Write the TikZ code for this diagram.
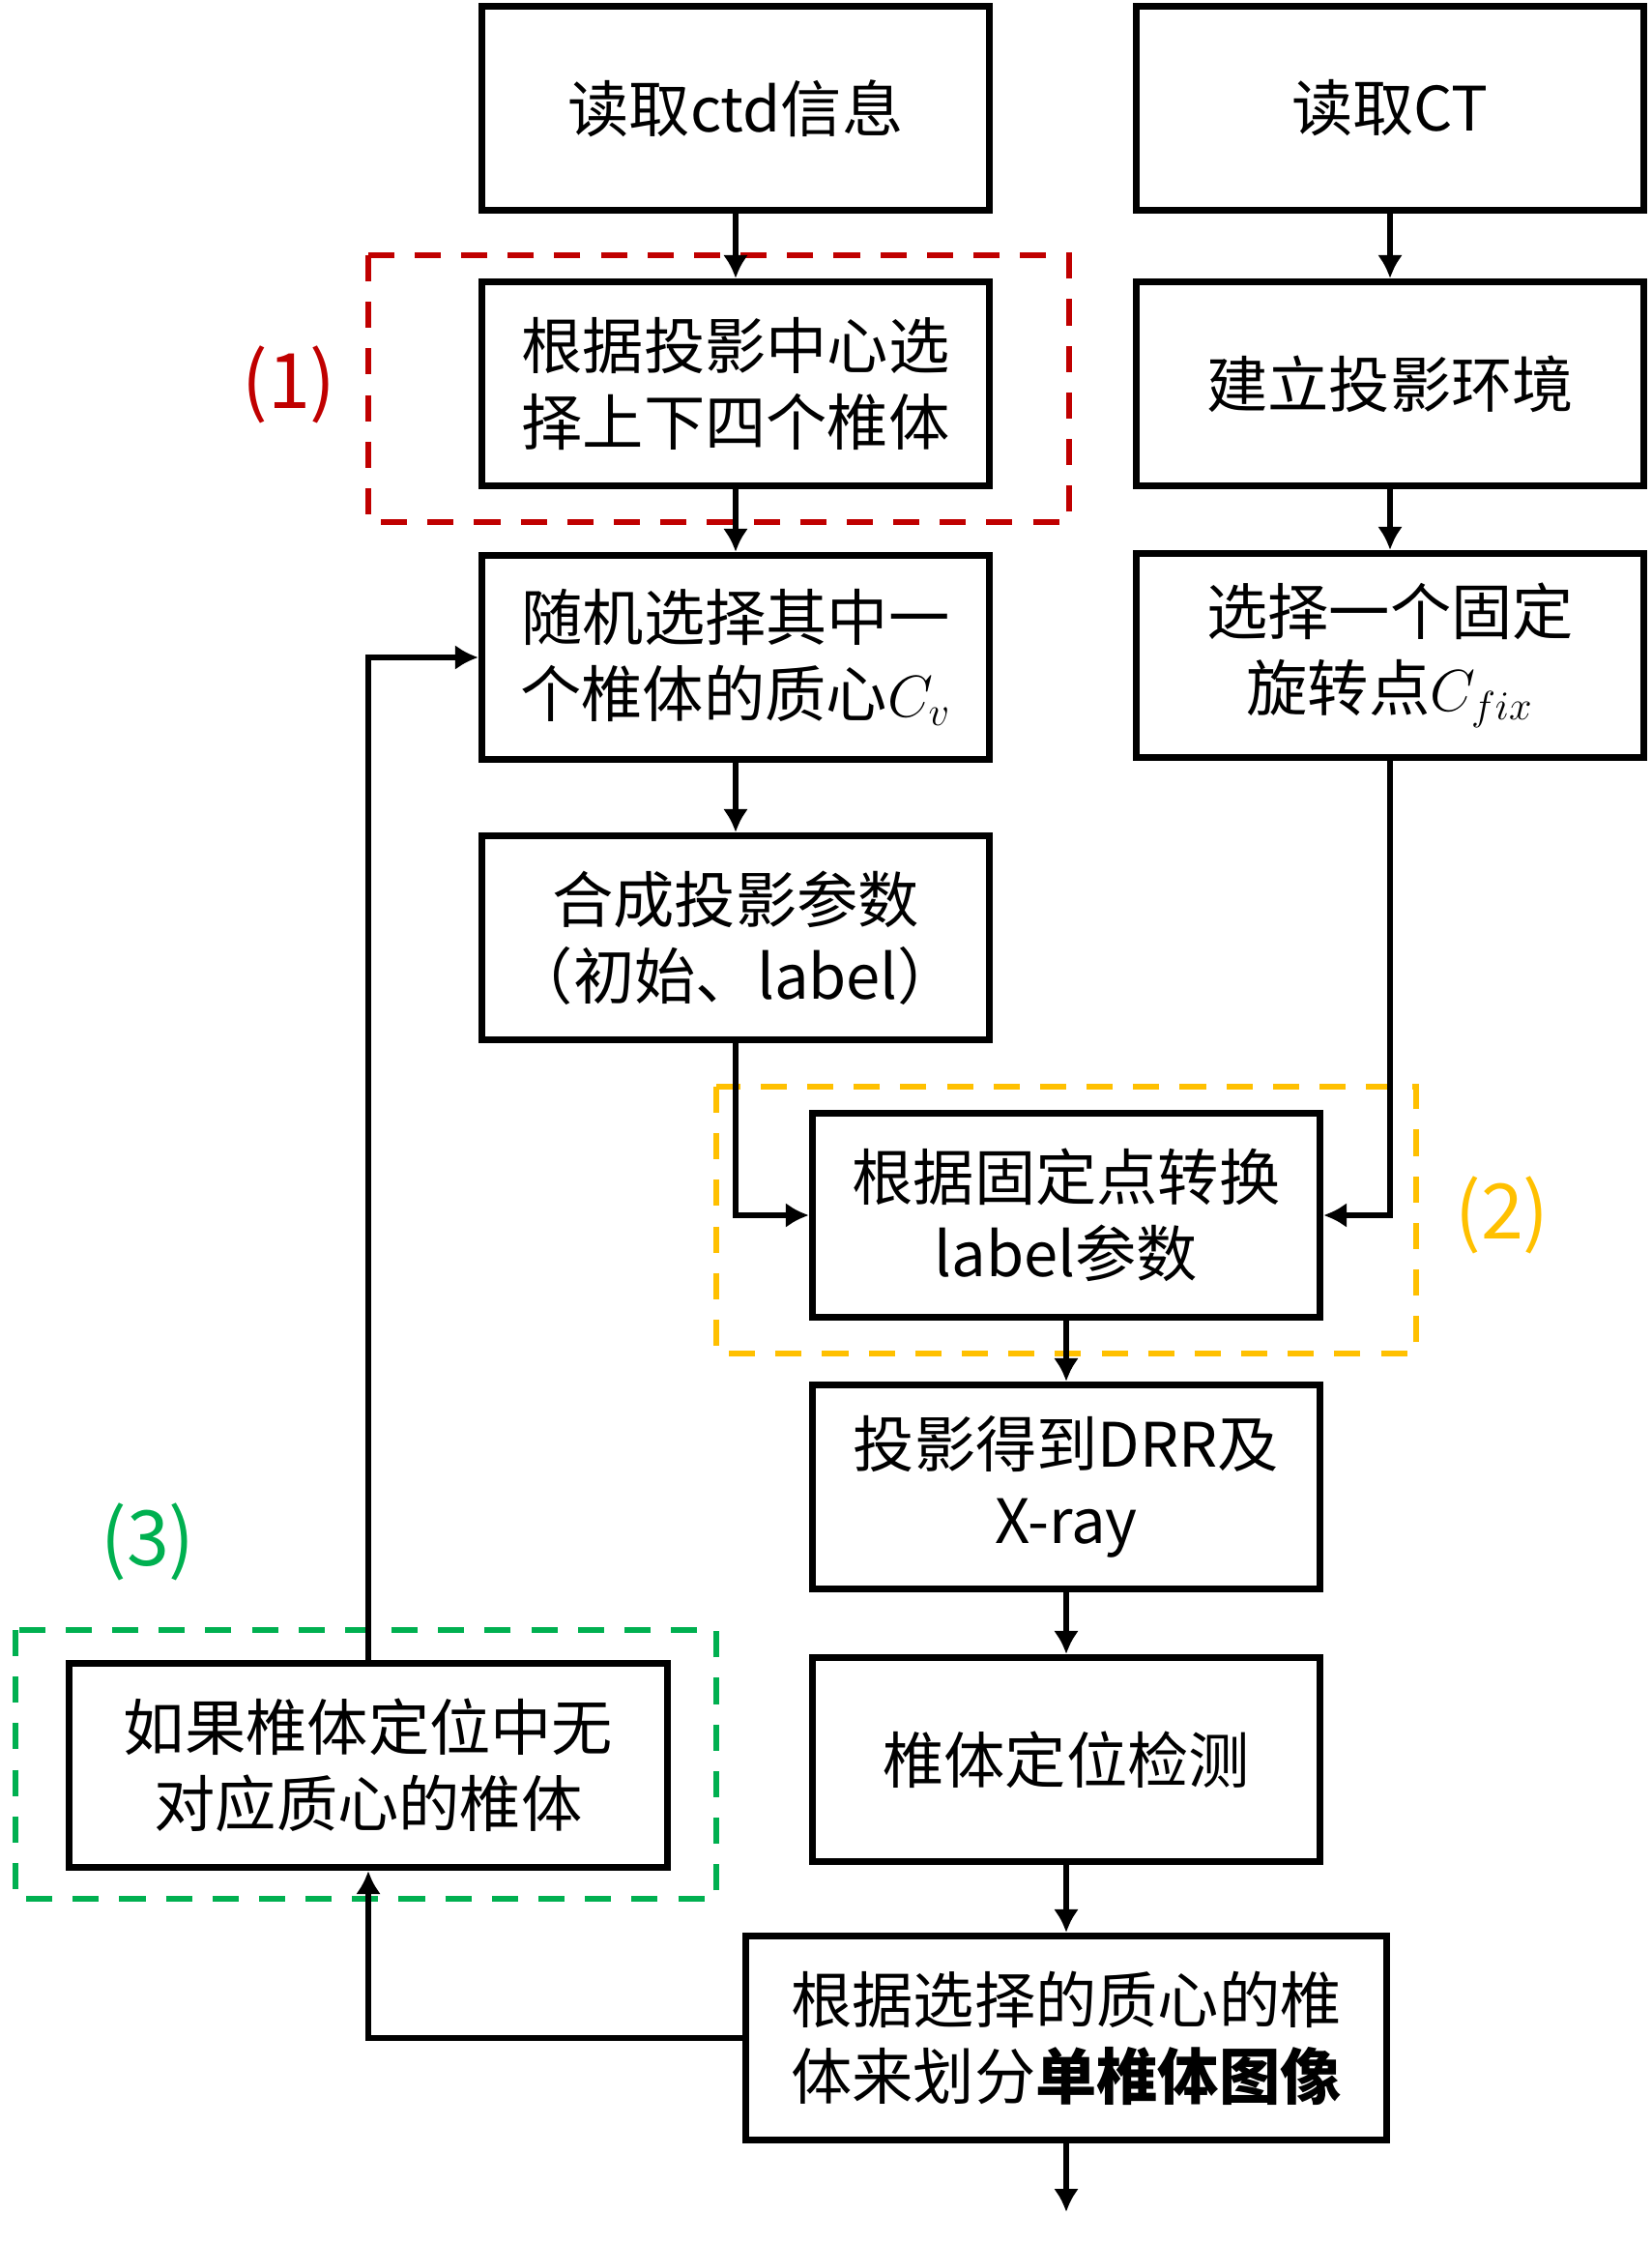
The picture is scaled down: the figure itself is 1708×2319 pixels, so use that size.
\documentclass[tikz,border=0pt]{standalone}
\usepackage{fontspec}
\setmainfont{Noto Sans CJK SC}
\usetikzlibrary{arrows.meta}
\definecolor{myred}{HTML}{C00000}
\definecolor{myyellow}{HTML}{FFC000}
\definecolor{mygreen}{HTML}{00B050}
\begin{document}
\begin{tikzpicture}[x=0.01cm,y=-0.01cm,
 box/.style={draw, line width=2pt, minimum width=5.25cm, minimum height=2.11cm, align=center, font=\fontsize{18}{22.5}\selectfont, inner sep=0pt},
 conn/.style={line width=1.75pt, -{Latex[length=0.24cm,width=0.26cm]}},
 grp/.style={line width=1.85pt, dash pattern=on 7.7pt off 6pt},
 lbl/.style={font=\fontsize{22.5}{26}\selectfont}]
\useasboundingbox (0,0) rectangle (1708,2319);
% groups
\draw[grp, myred] (381,264) rectangle (1106,540);
\draw[grp, myyellow] (741,1124) rectangle (1465,1400);
\draw[grp, mygreen] (16,1686) rectangle (741,1964);
% boxes
\node[box] (a) at (761,112) {读取ctd信息};
\node[box] (b) at (1438,112) {读取CT};
\node[box] (c) at (761,397) {根据投影中心选\\择上下四个椎体};
\node[box] (d) at (1438,397) {建立投影环境};
\node[box] (e) at (761,680) {随机选择其中一\\个椎体的质心$C_v$};
\node[box] (f) at (1438,678) {选择一个固定\\旋转点$C_{fix}$};
\node[box] (g) at (761,970) {合成投影参数\\（初始、label）};
\node[box] (h) at (1103,1257) {根据固定点转换\\label参数};
\node[box] (i) at (1103,1538) {投影得到DRR及\\X-ray};
\node[box] (j) at (1103,1820) {椎体定位检测};
\node[box, minimum width=6.63cm] (k) at (1103,2108) {根据选择的质心的椎\\体来划分\textbf{单椎体图像}};
\node[box, minimum width=6.19cm] (l) at (381,1826) {如果椎体定位中无\\对应质心的椎体};
\coordinate (end) at (1103,2288);
% labels
\node[lbl, text=myred] (n1) at (299,398) {(1)};
\node[lbl, text=myyellow] (n2) at (1554,1257) {(2)};
\node[lbl, text=mygreen] (n3) at (153,1595) {(3)};
% connectors
\draw[conn] (a) -- (c);
\draw[conn] (b) -- (d);
\draw[conn] (c) -- (e);
\draw[conn] (d) -- (f);
\draw[conn] (e) -- (g);
\draw[conn] (g.south) |- (h.west);
\draw[conn] (f.south) |- (h.east);
\draw[conn] (h) -- (i);
\draw[conn] (i) -- (j);
\draw[conn] (j) -- (k);
\draw[conn] (k) -- (end);
\draw[conn] (k.west) -| (l.south);
\draw[conn] (l.north) |- (e.west);
\end{tikzpicture}
\end{document}
